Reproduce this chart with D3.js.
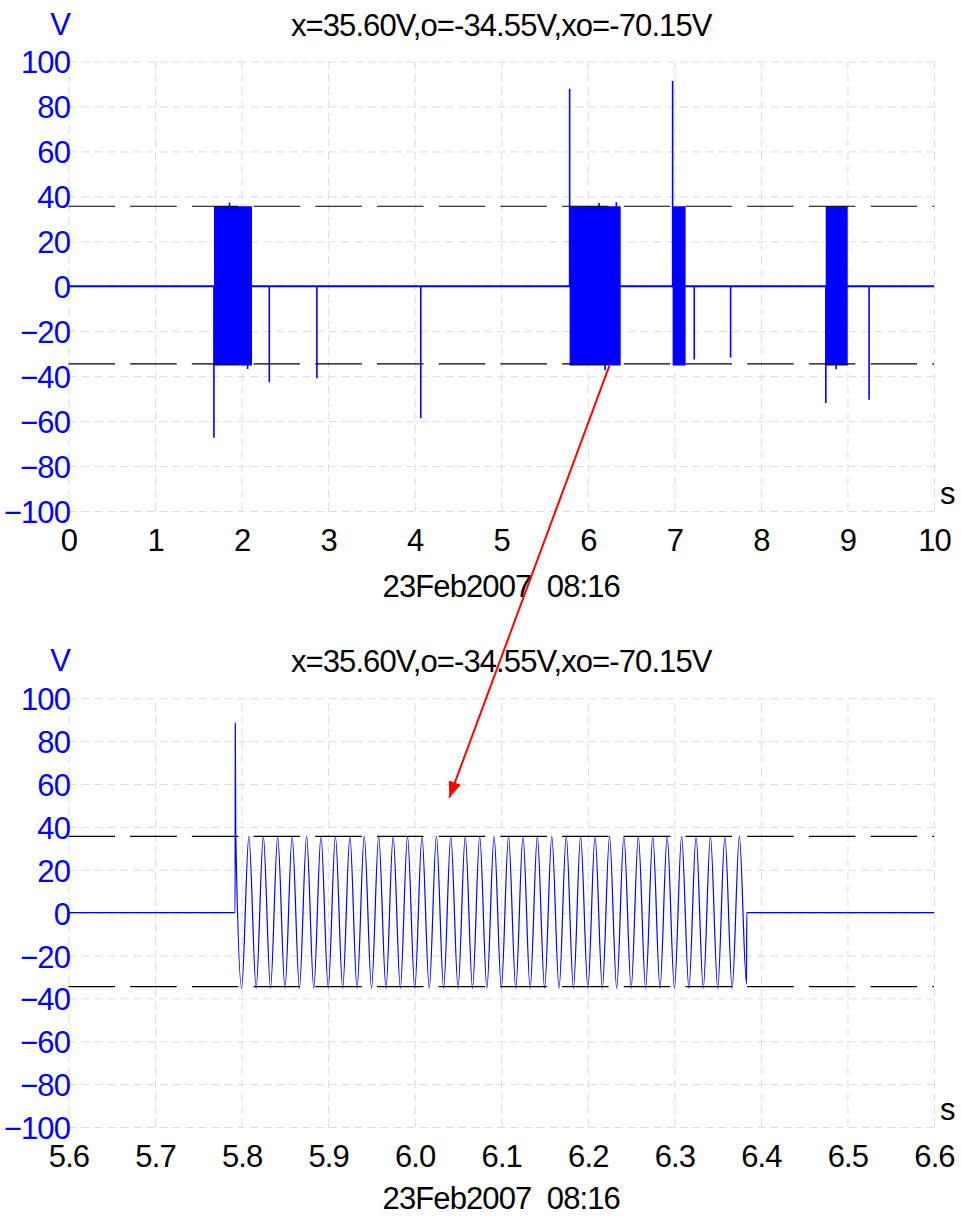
<!DOCTYPE html>
<html>
<head>
<meta charset="utf-8">
<script src="https://d3js.org/d3.v7.min.js"></script>
<style>
  body { margin: 0; background: #fff; }
  svg text { font-family: "Liberation Sans", Arial, sans-serif; font-size: 31px; letter-spacing: -0.9px; }
  .grid line { stroke: #dcdcdc; stroke-width: 1; stroke-dasharray: 8,5; }
  .grid path { display: none; }
  .level { stroke: #000; stroke-width: 1.2; stroke-dasharray: 46.5,15.2; }
</style>
</head>
<body>
<svg id="chart" width="961" height="1216"></svg>
<script>
// Header values (cursor levels x and o)
var titleText = 'x=35.60V,o=-34.55V,xo=-70.15V';
var dateText = '23Feb2007  08:16';
var levelX = 35.60;
var levelO = -34.55;

var voltTicks = [-100, -80, -60, -40, -20, 0, 20, 40, 60, 80, 100];
var overviewTicks = [0, 1, 2, 3, 4, 5, 6, 7, 8, 9, 10];
var zoomTicks = [5.6, 5.7, 5.8, 5.9, 6.0, 6.1, 6.2, 6.3, 6.4, 6.5, 6.6];

// Overview 0-10 s: single transients on the baseline
var spikeTimes = [1.68, 1.86, 2.07, 2.32, 2.87, 4.07, 5.79, 6.13, 6.20, 6.33, 6.98, 7.23, 7.65, 8.75, 8.87, 9.25];
var spikeVolts = [-67.4, 37.2, -36.8, -42.7, -40.9, -58.7, 87.9, 37.0, -37.4, 37.4, 91.4, -32.6, -31.7, -52.0, -36.9, -50.5];

// Overview 0-10 s: 60 Hz bursts, solid at this scale
var burstStarts = [1.681, 5.79, 6.98, 8.749];
var burstEnds = [2.12, 6.38, 7.13, 9.003];
var burstHigh = [35.6, 35.6, 35.6, 35.6];
var burstLow = [-35.3, -35.3, -35.3, -35.3];

// Zoom 5.6-6.6 s: waveform vertices (troughs and peaks of the burst)
var zoomTimes = [5.6, 5.7925, 5.7927, 5.7933,
  5.8001, 5.8084, 5.8168, 5.8251, 5.8334, 5.8417, 5.8501, 5.8584, 5.8668, 5.8751, 5.8834, 5.8917,
  5.9001, 5.9084, 5.9168, 5.9251, 5.9334, 5.9417, 5.9501, 5.9584, 5.9668, 5.9751, 5.9834, 5.9917,
  6.0001, 6.0084, 6.0168, 6.0251, 6.0334, 6.0417, 6.0501, 6.0584, 6.0668, 6.0751, 6.0834, 6.0917,
  6.1001, 6.1084, 6.1168, 6.1251, 6.1334, 6.1417, 6.1501, 6.1584, 6.1668, 6.1751, 6.1834, 6.1917,
  6.2001, 6.2084, 6.2168, 6.2251, 6.2334, 6.2417, 6.2501, 6.2584, 6.2668, 6.2751, 6.2834, 6.2917,
  6.3001, 6.3084, 6.3168, 6.3251, 6.3334, 6.3417, 6.3501, 6.3584, 6.3668, 6.3751, 6.3834,
  6.3837, 6.6];
var zoomVolts = [0, 0, 88.4, 36,
  -35.2, 35.6, -35.2, 35.6, -35.2, 35.6, -35.2, 35.6, -35.2, 35.6, -35.2, 35.6,
  -35.2, 35.6, -35.2, 35.6, -35.2, 35.6, -35.2, 35.6, -35.2, 35.6, -35.2, 35.6,
  -35.2, 35.6, -35.2, 35.6, -35.2, 35.6, -35.2, 35.6, -35.2, 35.6, -35.2, 35.6,
  -35.2, 35.6, -35.2, 35.6, -35.2, 35.6, -35.2, 35.6, -35.2, 35.6, -35.2, 35.6,
  -35.2, 35.6, -35.2, 35.6, -35.2, 35.6, -35.2, 35.6, -35.2, 35.6, -35.2, 35.6,
  -35.2, 35.6, -35.2, 35.6, -35.2, 35.6, -35.2, 35.6, -35.2, 35.6, -33.4,
  0, 0];

// Red arrow from the overview burst to the zoomed panel [time, volt]
var arrowFrom = [6.25, -35.3];
var arrowTo = [6.04, 53.7];

var blue = '#0000ff';
var left = 68.5, right = 934;
var svg = d3.select('#chart');

svg.append('defs').append('marker')
  .attr('id', 'head')
  .attr('markerUnits', 'userSpaceOnUse')
  .attr('markerWidth', 17).attr('markerHeight', 13)
  .attr('refX', 16).attr('refY', 6.5)
  .attr('orient', 'auto')
  .append('path')
  .attr('d', 'M0,0 L16,6.5 L0,13 Z')
  .attr('fill', '#ff0000');

var drawPanel = function(opts) {
  var x = d3.scaleLinear().domain(opts.domain).range([left, right]);
  var y = d3.scaleLinear().domain([-100, 100]).range([opts.bottom, opts.top]);
  var g = svg.append('g');

  // Dashed grid
  g.append('g').attr('class', 'grid')
    .attr('transform', 'translate(' + left + ',0)')
    .call(d3.axisLeft(y).tickValues(voltTicks).tickSize(-(right - left)).tickFormat(''));
  g.append('g').attr('class', 'grid')
    .attr('transform', 'translate(0,' + opts.bottom + ')')
    .call(d3.axisBottom(x).tickValues(opts.ticks).tickSize(-(opts.bottom - opts.top)).tickFormat(''));

  // Axis labels
  var ya = g.append('g')
    .attr('transform', 'translate(' + (left + 1.5) + ',0)')
    .call(d3.axisLeft(y).tickValues(voltTicks).tickSize(0).tickPadding(0));
  ya.select('.domain').remove();
  ya.attr('font-family', null).attr('font-size', null);
  ya.selectAll('text').attr('fill', blue).attr('dy', '0.37em');

  var xa = g.append('g')
    .attr('transform', 'translate(0,' + opts.bottom + ')')
    .call(d3.axisBottom(x).tickValues(opts.ticks).tickSize(0).tickFormat(opts.format));
  xa.select('.domain').remove();
  xa.attr('font-family', null).attr('font-size', null);
  xa.selectAll('text').attr('fill', '#000').attr('y', 40).attr('dy', 0);

  g.append('text').text('V').attr('fill', blue)
    .attr('text-anchor', 'end').attr('x', left + 1.5).attr('y', opts.top - 27);
  g.append('text').text(titleText).attr('fill', '#000')
    .attr('text-anchor', 'middle').attr('x', (left + right) / 2).attr('y', opts.top - 26);
  g.append('text').text('s').attr('fill', '#000')
    .attr('x', 940).attr('y', opts.bottom - 7);
  g.append('text').text(dateText).attr('fill', '#000')
    .attr('xml:space', 'preserve').style('white-space', 'pre')
    .attr('text-anchor', 'middle').attr('x', (left + right) / 2).attr('y', opts.bottom + opts.dateGap);

  opts.trace(g, x, y);

  // Cursor levels
  g.selectAll('line.level')
    .data([levelX, levelO])
    .enter().append('line')
    .attr('class', 'level')
    .attr('x1', left).attr('x2', right)
    .attr('y1', function(v) { return y(v); })
    .attr('y2', function(v) { return y(v); });

  return { x: x, y: y };
};

var overview = drawPanel({
  domain: [0, 10], top: 61.5, bottom: 511, ticks: overviewTicks, format: d3.format('d'), dateGap: 86,
  trace: function(g, x, y) {
    g.append('line')
      .attr('x1', x(0)).attr('x2', x(10))
      .attr('y1', y(0)).attr('y2', y(0))
      .attr('stroke', blue).attr('stroke-width', 2);

    g.selectAll('line.spike')
      .data(d3.range(spikeTimes.length))
      .enter().append('line')
      .attr('class', 'spike')
      .attr('x1', function(i) { return x(spikeTimes[i]); })
      .attr('x2', function(i) { return x(spikeTimes[i]); })
      .attr('y1', y(0))
      .attr('y2', function(i) { return y(spikeVolts[i]); })
      .attr('stroke', blue).attr('stroke-width', 1.6);

    var area = d3.area()
      .x(function(d) { return x(d[0]); })
      .y0(function(d) { return y(d[1]); })
      .y1(function(d) { return y(d[2]); });
    g.selectAll('path.burst')
      .data(d3.range(burstStarts.length))
      .enter().append('path')
      .attr('class', 'burst')
      .attr('d', function(i) {
        return area([[burstStarts[i], burstLow[i], burstHigh[i]], [burstEnds[i], burstLow[i], burstHigh[i]]]);
      })
      .attr('fill', blue);
  }
});

var zoom = drawPanel({
  domain: [5.6, 6.6], top: 698.3, bottom: 1127, ticks: zoomTicks, format: d3.format('.1f'), dateGap: 82,
  trace: function(g, x, y) {
    var line = d3.line()
      .x(function(i) { return x(zoomTimes[i]); })
      .y(function(i) { return y(zoomVolts[i]); })
      .curve(d3.curveMonotoneX);
    g.append('path')
      .attr('d', line(d3.range(zoomTimes.length)))
      .attr('fill', 'none')
      .attr('stroke', blue).attr('stroke-width', 1.2);
  }
});

// Arrow linking the overview burst to the zoom
svg.append('line')
  .attr('x1', overview.x(arrowFrom[0])).attr('y1', overview.y(arrowFrom[1]))
  .attr('x2', zoom.x(arrowTo[0])).attr('y2', zoom.y(arrowTo[1]))
  .attr('stroke', '#ff0000').attr('stroke-width', 2)
  .attr('marker-end', 'url(#head)');
</script>
</body>
</html>
